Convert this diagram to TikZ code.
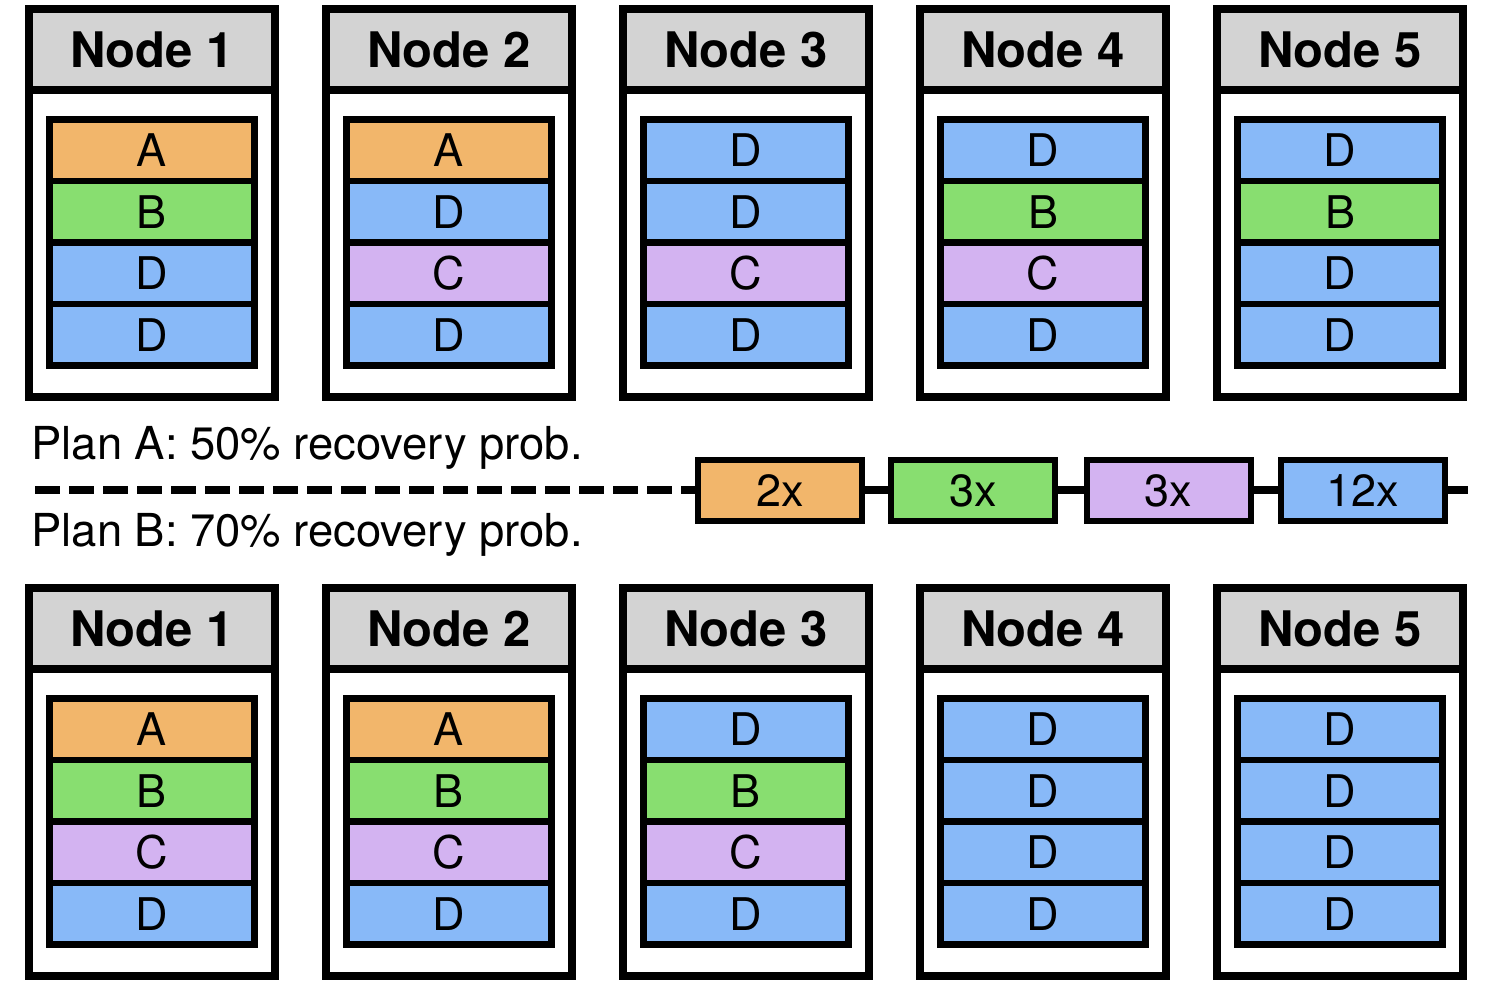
\documentclass[tikz,border=0pt]{standalone}
\usepackage{fontspec}
\setmainfont{TeX Gyre Heros}
\usepackage{xcolor}
\definecolor{slotOrange}{HTML}{F2B66B}
\definecolor{slotGreen}{HTML}{88DE70}
\definecolor{slotPurple}{HTML}{D3B3F1}
\definecolor{slotBlue}{HTML}{88B9F8}
\definecolor{headGray}{HTML}{D3D3D3}
\colorlet{colA}{slotOrange}
\colorlet{colB}{slotGreen}
\colorlet{colC}{slotPurple}
\colorlet{colD}{slotBlue}
\usepackage{tikz}
\usetikzlibrary{positioning}
\tikzset{
    header/.style={
        draw=black,
        fill=headGray,
        rectangle,
        line width=3.6pt,
        minimum width=123pt,
        minimum height=40.5pt,
        inner sep=0pt,
        outer sep=0pt,
        font=\fontsize{24.5}{27}\selectfont\bfseries
    },
    body/.style={
        draw=black,
        fill=white,
        rectangle,
        line width=3.6pt,
        minimum width=123pt,
        minimum height=153.5pt,
        inner sep=0pt,
        outer sep=0pt
    },
    slot/.style={
        draw=black,
        rectangle,
        line width=3.4pt,
        minimum width=102.5pt,
        minimum height=30.75pt,
        inner sep=0pt,
        outer sep=0pt,
        font=\fontsize{22.5}{25}\selectfont
    },
    factor/.style={
        draw=black,
        rectangle,
        line width=3pt,
        minimum width=82pt,
        minimum height=30.5pt,
        inner sep=0pt,
        outer sep=0pt,
        font=\fontsize{22.5}{25}\selectfont
    },
    plan/.style={
        anchor=base west,
        inner sep=0pt,
        font=\fontsize{22.7}{25}\selectfont
    },
    link/.style={
        line width=4pt,
        color=black
    }
}

\begin{document}
\begin{tikzpicture}[x=0.5pt, y=-0.5pt]
    \useasboundingbox (0,0) rectangle (1495,983);

    % Plan A placement
    \foreach \i/\ra/\rb/\rc/\rd in {1/A/B/D/D, 2/A/D/C/D, 3/D/D/C/D, 4/D/B/C/D, 5/D/B/D/D}{
        \node[header] (top\i) at ({152+297*(\i-1)}, 49.5) {Node \i};
        \node[body, below=0pt of top\i] (top\i box) {};
        \node[slot, fill=col\ra] (top\i-1) at ({152+297*(\i-1)}, 150.25) {\ra};
        \node[slot, fill=col\rb, below=0pt of top\i-1] (top\i-2) {\rb};
        \node[slot, fill=col\rc, below=0pt of top\i-2] (top\i-3) {\rc};
        \node[slot, fill=col\rd, below=0pt of top\i-3] (top\i-4) {\rd};
    }

    % Plan B placement
    \foreach \i/\ra/\rb/\rc/\rd in {1/A/B/C/D, 2/A/B/C/D, 3/D/B/C/D, 4/D/D/D/D, 5/D/D/D/D}{
        \node[header] (bot\i) at ({152+297*(\i-1)}, 628.5) {Node \i};
        \node[body, below=0pt of bot\i] (bot\i box) {};
        \node[slot, fill=col\ra] (bot\i-1) at ({152+297*(\i-1)}, 729.25) {\ra};
        \node[slot, fill=col\rb, below=0pt of bot\i-1] (bot\i-2) {\rb};
        \node[slot, fill=col\rc, below=0pt of bot\i-2] (bot\i-3) {\rc};
        \node[slot, fill=col\rd, below=0pt of bot\i-3] (bot\i-4) {\rd};
    }

    % Labels
    \node[plan] (planA) at (31, 460) {Plan A: 50\% recovery prob.};
    \node[plan] (planB) at (31, 547) {Plan B: 70\% recovery prob.};

    % Replication factors
    \node[factor, fill=slotOrange] (fA) at (780, 490.5) {2x};
    \node[factor, fill=slotGreen] (fB) at (973, 490.5) {3x};
    \node[factor, fill=slotPurple] (fC) at (1168.5, 490.5) {3x};
    \node[factor, fill=slotBlue] (fD) at (1363, 490.5) {12x};
    \coordinate (lineStart) at (35, 490.5);
    \coordinate (lineEnd) at (1468, 490.5);

    % Connections
    \draw[link, dash pattern=on 12.5pt off 4.5pt] (lineStart) -- (fA);
    \draw[link] (fA) -- (fB);
    \draw[link] (fB) -- (fC);
    \draw[link] (fC) -- (fD);
    \draw[link] (fD) -- (lineEnd);
\end{tikzpicture}
\end{document}
